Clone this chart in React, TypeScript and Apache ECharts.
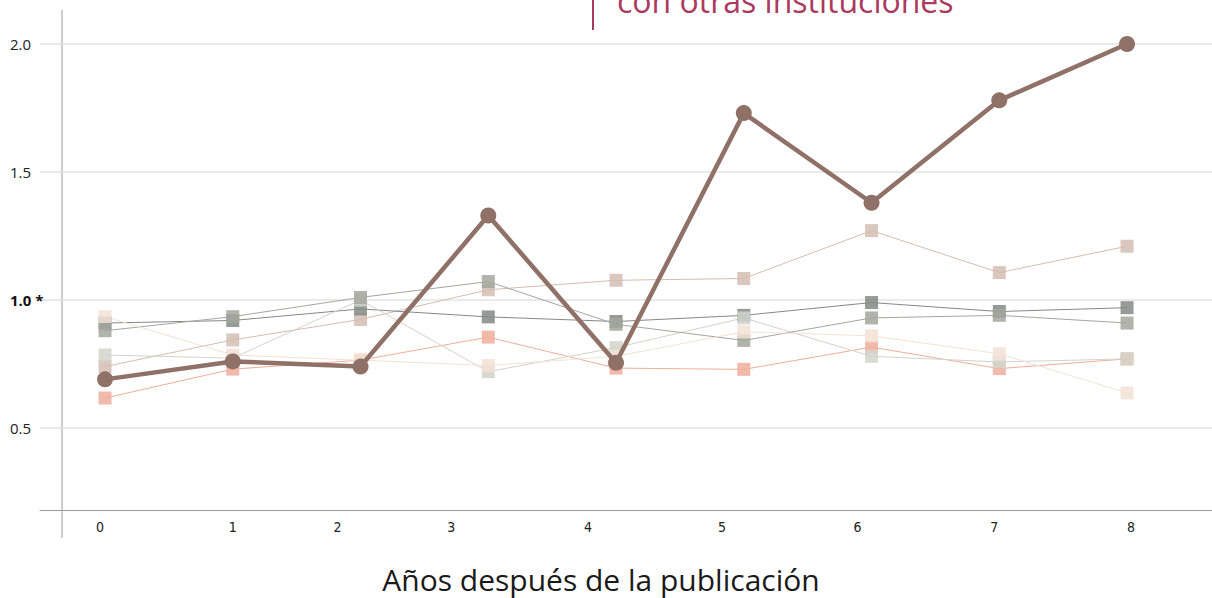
import React, { useEffect, useRef } from "react";
import * as echarts from "echarts";

// ---- data ----
const years = [0, 1, 2, 3, 4, 5, 6, 7, 8];
const xTickPos = [-0.04, 1.0, 1.82, 2.71, 3.78, 4.83, 5.89, 6.96, 8.03];
const xTickLabels = ["0", "1", "2", "3", "4", "5", "6", "7", "8"];
const yTickValues = [0.5, 1.0, 1.5, 2.0];
const yTickLabels = ["0.5", "1.0 *", "1.5", "2.0"];

const salmonVals = [0.617, 0.73, 0.765, 0.855, 0.734, 0.729, 0.816, 0.732, 0.77];
const tanVals = [0.74, 0.844, 0.924, 1.04, 1.077, 1.084, 1.271, 1.107, 1.21];
const darkVals = [0.91, 0.92, 0.965, 0.934, 0.916, 0.94, 0.99, 0.955, 0.97];
const lightGreenVals = [0.785, 0.773, 1.0, 0.72, 0.814, 0.93, 0.78, 0.758, 0.77];
const grayGreenVals = [0.88, 0.935, 1.01, 1.072, 0.905, 0.842, 0.93, 0.94, 0.91];
const peachVals = [0.935, 0.785, 0.765, 0.744, 0.78, 0.876, 0.86, 0.79, 0.637];
const mainVals = [0.69, 0.76, 0.74, 1.33, 0.755, 1.73, 1.38, 1.78, 2.0];

const titleText = "con otras instituciones";
const axisTitle = "Años después de la publicación";

const thinSeries = [
  { name: "s1", vals: salmonVals, color: "#eeae9c" },
  { name: "s2", vals: tanVals, color: "#d3bdb1" },
  { name: "s3", vals: darkVals, color: "#848986" },
  { name: "s4", vals: lightGreenVals, color: "#d2d5cb" },
  { name: "s5", vals: grayGreenVals, color: "#a4a79d" },
  { name: "s6", vals: peachVals, color: "#f3e2d6" },
];

const toPairs = (vals: number[]) => years.map((x, i) => [x, vals[i]]);

export default function App() {
  const ref = useRef<HTMLDivElement>(null);
  useEffect(() => {
    if (!ref.current) return;
    const chart = echarts.init(ref.current, undefined, { renderer: "svg" });
    const font = "'Open Sans', 'Noto Sans', sans-serif";
    const option: any = {
      animation: false,
      grid: { left: 40, right: 0, top: 10, bottom: 88, outerBoundsMode: "none", containLabel: false },
      xAxis: {
        type: "value",
        min: -0.509,
        max: 8.665,
        axisLine: { show: true, onZero: false, lineStyle: { color: "#9a9a9a", width: 1 } },
        axisTick: { show: false },
        splitLine: { show: false },
        axisLabel: {
          customValues: xTickPos,
          formatter: (v: number) => {
            const i = xTickPos.findIndex((p) => Math.abs(p - v) < 1e-6);
            return i >= 0 ? xTickLabels[i] : "";
          },
          margin: 10,
          fontSize: 14,
          color: "#222",
          fontFamily: "'Liberation Sans Narrow', 'DejaVu Sans Condensed', 'Noto Sans', sans-serif",
        },
        name: axisTitle,
        nameLocation: "middle",
        nameGap: 54,
        nameTextStyle: { fontSize: 30, color: "#1a1a1a", fontFamily: font, padding: [0, 50, 0, 0] },
      },
      yAxis: {
        type: "value",
        min: 0.1797,
        max: 2.1328,
        axisLine: { show: false },
        axisTick: { show: false, customValues: yTickValues },
        splitLine: { show: true, lineStyle: { color: "#e3e3e3", width: 1.5 } },
        axisLabel: {
          customValues: yTickValues,
          formatter: (v: number) => {
            const i = yTickValues.findIndex((p) => Math.abs(p - v) < 1e-6);
            if (i < 0) return "";
            return i === 1 ? "{b|" + yTickLabels[i] + "}" : yTickLabels[i];
          },
          align: "left",
          margin: 30,
          fontSize: 15,
          color: "#222",
          fontFamily: font,
          rich: { b: { fontWeight: "bold", fontSize: 15, color: "#111", fontFamily: font } },
        },
      },
      graphic: [
        {
          type: "line",
          shape: { x1: 62, y1: 10, x2: 62, y2: 538 },
          style: { stroke: "#9a9a9a", lineWidth: 1 },
          silent: true,
        },
        {
          type: "line",
          shape: { x1: 593, y1: 0, x2: 593, y2: 30 },
          style: { stroke: "#a83a5c", lineWidth: 2 },
          silent: true,
        },
        {
          type: "text",
          x: 617,
          y: 0,
          style: {
            text: titleText,
            fontSize: 32,
            fill: "#aa3a5e",
            fontFamily: font,
            verticalAlign: "middle",
          },
          silent: true,
        },
      ],
      series: [
        ...thinSeries.map((s) => ({
          name: s.name,
          type: "line",
          data: toPairs(s.vals),
          symbol: "rect",
          symbolSize: 13,
          showAllSymbol: true,
          lineStyle: { color: s.color, width: 1 },
          itemStyle: { color: s.color, opacity: 0.85 },
          silent: true,
        })),
        {
          name: "main",
          type: "line",
          data: toPairs(mainVals),
          symbol: "circle",
          symbolSize: 16,
          lineStyle: { color: "#8f7167", width: 4.5 },
          itemStyle: { color: "#8f7167" },
          silent: true,
          z: 5,
        },
      ],
    };
    chart.setOption(option);
    return () => chart.dispose();
  }, []);
  return (
    <div
      ref={ref}
      style={{ position: "fixed", left: 0, top: 0, width: 1212, height: 598, background: "#fff" }}
    />
  );
}
